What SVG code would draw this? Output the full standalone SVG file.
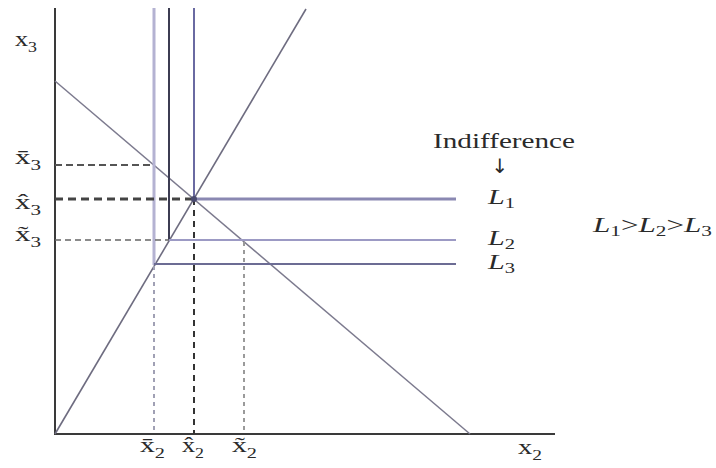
<svg xmlns="http://www.w3.org/2000/svg" width="716" height="468" viewBox="0 0 716 468">
<style>
.t{font-family:"Liberation Serif","Times New Roman",serif;font-size:22px;fill:#2a2a2a}
.it{font-style:italic}
.sub{font-size:15px}
.ax{stroke:#3a3a3a;stroke-width:2;fill:none}
.ln{fill:none}
</style>
<rect width="716" height="468" fill="#fff"/>
<g id="axes">
<line class="ax" x1="55" y1="8" x2="55" y2="435"/>
<line class="ax" x1="55" y1="434" x2="555" y2="434"/>
</g>
<g id="connectors">
<line class="ln" x1="55" y1="81" x2="470" y2="434" stroke="#7c7a8e" stroke-width="1.5"/>
<line class="ln" x1="55" y1="434" x2="306" y2="9" stroke="#6e6c80" stroke-width="1.6"/>
<line class="ln" x1="154" y1="8" x2="154" y2="265" stroke="#b4b2d2" stroke-width="3"/>
<line class="ln" x1="169" y1="8" x2="169" y2="240" stroke="#3c3c52" stroke-width="2"/>
<line class="ln" x1="194" y1="8" x2="194" y2="199" stroke="#6a6aa2" stroke-width="2"/>
<line class="ln" x1="194" y1="199" x2="456" y2="199" stroke="#8a88b2" stroke-width="3"/>
<line class="ln" x1="169" y1="240" x2="456" y2="240" stroke="#9c9ac4" stroke-width="2"/>
<line class="ln" x1="154" y1="264" x2="456" y2="264" stroke="#6c6c94" stroke-width="2"/>
<line class="ln" x1="55" y1="165" x2="154" y2="165" stroke="#555" stroke-width="2" stroke-dasharray="7,4"/>
<line class="ln" x1="55" y1="199" x2="194" y2="199" stroke="#444" stroke-width="3" stroke-dasharray="8,5"/>
<line class="ln" x1="55" y1="240" x2="169" y2="240" stroke="#666" stroke-width="1.5" stroke-dasharray="6,4"/>
<line class="ln" x1="154" y1="266" x2="154" y2="434" stroke="#a0a0b4" stroke-width="2" stroke-dasharray="4,4"/>
<line class="ln" x1="194" y1="199" x2="194" y2="434" stroke="#333" stroke-width="2" stroke-dasharray="6,5"/>
<line class="ln" x1="244" y1="242" x2="244" y2="434" stroke="#9a9a9a" stroke-width="2" stroke-dasharray="4,4"/>
</g>
<g id="point">
<circle cx="194" cy="199" r="3" fill="#4a4a70"/>
</g>
<g id="label-x3">
<text class="t" x="15" y="46" textLength="22" lengthAdjust="spacingAndGlyphs">x<tspan class="sub" dy="6">3</tspan></text>
</g>
<g id="label-x3-bar">
<text class="t" x="15" y="164" textLength="26" lengthAdjust="spacingAndGlyphs">x̄<tspan class="sub" dy="6">3</tspan></text>
</g>
<g id="label-x3-hat">
<text class="t" x="15" y="209" textLength="26" lengthAdjust="spacingAndGlyphs">x̂<tspan class="sub" dy="6">3</tspan></text>
</g>
<g id="label-x3-tilde">
<text class="t" x="15" y="241" textLength="26" lengthAdjust="spacingAndGlyphs">x̃<tspan class="sub" dy="6">3</tspan></text>
</g>
<g id="label-x2-bar">
<text class="t" x="140" y="452" textLength="25" lengthAdjust="spacingAndGlyphs">x̄<tspan class="sub" dy="6">2</tspan></text>
</g>
<g id="label-x2-hat">
<text class="t" x="182" y="452" textLength="22" lengthAdjust="spacingAndGlyphs">x̂<tspan class="sub" dy="6">2</tspan></text>
</g>
<g id="label-x2-tilde">
<text class="t" x="232" y="452" textLength="25" lengthAdjust="spacingAndGlyphs">x̃<tspan class="sub" dy="6">2</tspan></text>
</g>
<g id="label-x2">
<text class="t" x="518" y="454" textLength="24" lengthAdjust="spacingAndGlyphs">x<tspan class="sub" dy="6">2</tspan></text>
</g>
<g id="label-indiff">
<text class="t" x="433" y="148" textLength="142" lengthAdjust="spacingAndGlyphs">Indifference</text>
<text class="t" x="500" y="173" text-anchor="middle" style="font-size:20px;font-family:'DejaVu Sans',sans-serif">↓</text>
</g>
<g id="label-L1">
<text class="t it" x="488" y="204" textLength="27" lengthAdjust="spacingAndGlyphs">L<tspan class="sub" dy="4" font-style="normal">1</tspan></text>
</g>
<g id="label-L2">
<text class="t it" x="488" y="245" textLength="27" lengthAdjust="spacingAndGlyphs">L<tspan class="sub" dy="4" font-style="normal">2</tspan></text>
</g>
<g id="label-L3">
<text class="t it" x="488" y="269" textLength="27" lengthAdjust="spacingAndGlyphs">L<tspan class="sub" dy="4" font-style="normal">3</tspan></text>
</g>
<g id="label-order">
<text class="t it" x="593" y="232" textLength="119" lengthAdjust="spacingAndGlyphs">L<tspan class="sub" dy="4" font-style="normal">1</tspan><tspan dy="-4" font-style="normal">&gt;</tspan>L<tspan class="sub" dy="4" font-style="normal">2</tspan><tspan dy="-4" font-style="normal">&gt;</tspan>L<tspan class="sub" dy="4" font-style="normal">3</tspan></text>
</g>
</svg>
